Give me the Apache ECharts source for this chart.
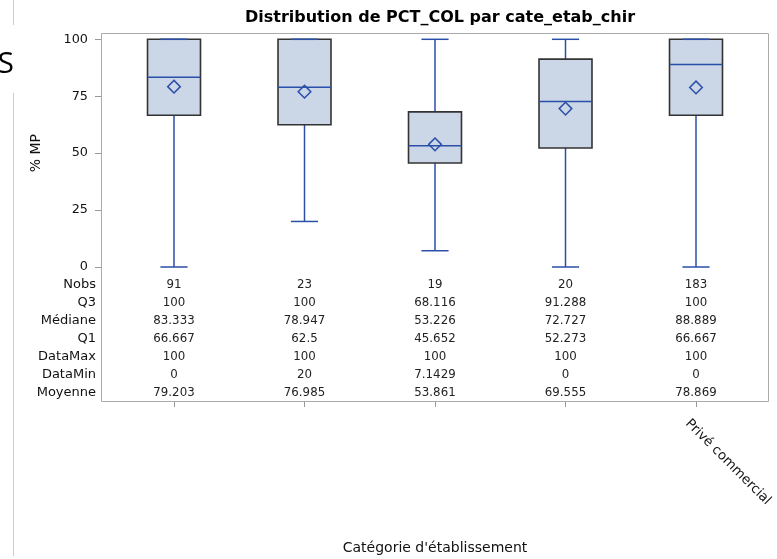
<!DOCTYPE html>
<html>
<head>
<meta charset="utf-8">
<script src="https://cdn.jsdelivr.net/npm/echarts@6/dist/echarts.min.js"></script>
<style>
  html, body { margin: 0; padding: 0; background: #fff; }
  #chart { width: 777px; height: 559px; }
</style>
</head>
<body>
<div id="chart"></div>
<script>
// Category labels (only the last one is printed under its tick)
const categories = ['', '', '', '', 'Privé commercial'];

// Per-category statistics of PCT_COL
const nobs    = [91, 23, 19, 20, 183];
const q3      = [100, 100, 68.116, 91.288, 100];
const median  = [83.333, 78.947, 53.226, 72.727, 88.889];
const q1      = [66.667, 62.5, 45.652, 52.273, 66.667];
const dataMax = [100, 100, 100, 100, 100];
const dataMin = [0, 20, 7.1429, 0, 0];
const mean    = [79.203, 76.985, 53.861, 69.555, 78.869];

// Statistic table row labels and y-axis ticks
const rowLabels = ['Nobs', 'Q3', 'Médiane', 'Q1', 'DataMax', 'DataMin', 'Moyenne'];
const yTicks = [0, 25, 50, 75, 100];

const FONT = 'DejaVu Sans';
const BLUE = '#2a4fa8';
const BOX_FILL = '#cbd6e6';
const BOX_EDGE = '#333333';

// Box data: [index, min, q1, median, q3, max, mean]
const boxData = categories.map((c, i) => [i, dataMin[i], q1[i], median[i], q3[i], dataMax[i], mean[i]]);
// Table data: one row of values per category
const tableRows = [nobs, q3, median, q1, dataMax, dataMin, mean];
const tableData = categories.map((c, i) => [i].concat(tableRows.map(r => r[i])));

// Table layout (pixels)
const TABLE_TOP = 284.5;
const TABLE_STEP = 18.1;

function renderBox(params, api) {
  const i = api.value(0);
  const x = api.coord([i, 0])[0];
  const band = api.size([1, 0])[0];
  const half = band * 0.203;
  const capHalf = band * 0.104;
  const y = v => api.coord([i, v])[1];
  const yMin = y(api.value(1)), yQ1 = y(api.value(2)), yMed = y(api.value(3));
  const yQ3 = y(api.value(4)), yMax = y(api.value(5)), yMean = y(api.value(6));
  const line = { stroke: BLUE, lineWidth: 1.5 };
  const d = 6.3;
  return {
    type: 'group',
    children: [
      { type: 'line', shape: { x1: x, y1: yQ3, x2: x, y2: yMax }, style: line },
      { type: 'line', shape: { x1: x, y1: yQ1, x2: x, y2: yMin }, style: line },
      { type: 'rect', shape: { x: x - half, y: yQ3, width: half * 2, height: yQ1 - yQ3 },
        style: { fill: BOX_FILL, stroke: BOX_EDGE, lineWidth: 1.6 } },
      { type: 'line', shape: { x1: x - half, y1: yMed, x2: x + half, y2: yMed }, style: line },
      { type: 'line', shape: { x1: x - capHalf, y1: yMax, x2: x + capHalf, y2: yMax }, style: line },
      { type: 'line', shape: { x1: x - capHalf, y1: yMin, x2: x + capHalf, y2: yMin }, style: line },
      { type: 'polygon', shape: { points: [[x, yMean - d], [x + d, yMean], [x, yMean + d], [x - d, yMean]] },
        style: { fill: 'none', stroke: BLUE, lineWidth: 1.5 } }
    ]
  };
}

function renderTable(params, api) {
  const i = api.value(0);
  const x = api.coord([i, 0])[0];
  const children = rowLabels.map((lbl, r) => ({
    type: 'text',
    x: x,
    y: TABLE_TOP + r * TABLE_STEP,
    style: {
      text: String(api.value(r + 1)),
      fill: '#222',
      font: '11.8px "' + FONT + '"',
      align: 'center',
      verticalAlign: 'middle'
    }
  }));
  return { type: 'group', children: children };
}

const chart = echarts.init(document.getElementById('chart'));

const graphics = [
  // plot frame enclosing boxes and table
  { type: 'rect', shape: { x: 101.5, y: 33.5, width: 667, height: 368 },
    style: { fill: 'none', stroke: '#ababab', lineWidth: 1 }, z: 0 },
  // page edge at the left
  { type: 'line', shape: { x1: 13.5, y1: 0, x2: 13.5, y2: 25 }, style: { stroke: '#cccccc', lineWidth: 1 } },
  { type: 'line', shape: { x1: 13.5, y1: 93, x2: 13.5, y2: 556 }, style: { stroke: '#cccccc', lineWidth: 1 } },
  { type: 'text', x: 14, y: 64, style: { text: 'S', font: '30px "Open Sans"', fill: '#000', align: 'right', verticalAlign: 'middle' } }
].concat(rowLabels.map((lbl, r) => ({
  type: 'text',
  x: 96,
  y: TABLE_TOP + r * TABLE_STEP,
  style: { text: lbl, font: '13px "' + FONT + '"', fill: '#111', align: 'right', verticalAlign: 'middle' }
})));

chart.setOption({
  animation: false,
  backgroundColor: '#fff',
  title: {
    text: 'Distribution de PCT_COL par cate_etab_chir',
    left: 435,
    top: 5,
    textAlign: 'center',
    textStyle: { fontFamily: FONT, fontWeight: 'bold', fontSize: 16, color: '#000' }
  },
  grid: [
    // boxes
    { left: 108.75, top: 39.3, width: 652.5, height: 227.7, outerBoundsMode: 'none' },
    // statistics table beneath the boxes
    { left: 108.75, top: 267, width: 652.5, height: 135, outerBoundsMode: 'none' }
  ],
  xAxis: [
    {
      type: 'category', gridIndex: 0, data: categories,
      axisLine: { show: false }, axisTick: { show: false }, axisLabel: { show: false },
      splitLine: { show: false }
    },
    {
      type: 'category', gridIndex: 1, data: categories,
      axisLine: { show: false },
      axisTick: { show: true, alignWithLabel: true, length: 5, lineStyle: { color: '#999' } },
      axisLabel: { show: false },
      name: "Catégorie d'établissement",
      nameLocation: 'middle',
      nameGap: 139,
      nameTextStyle: { fontFamily: FONT, fontSize: 14, color: '#111' },
      splitLine: { show: false }
    }
  ],
  yAxis: [
    {
      type: 'value', gridIndex: 0,
      min: yTicks[0],
      max: yTicks[yTicks.length - 1],
      interval: yTicks[1] - yTicks[0],
      offset: 7.75,
      axisLine: { show: false },
      axisTick: { show: true, length: 6, lineStyle: { color: '#999' } },
      axisLabel: { margin: 13, fontFamily: FONT, fontSize: 12.8, color: '#111' },
      splitLine: { show: false },
      name: '% MP',
      nameLocation: 'middle',
      nameGap: 58,
      nameTextStyle: { fontFamily: FONT, fontSize: 14, color: '#111' }
    },
    {
      type: 'value', gridIndex: 1, min: 0, max: 1, show: false
    }
  ],
  graphic: graphics,
  series: [
    { type: 'custom', renderItem: renderBox, data: boxData, clip: false, z: 2,
      xAxisIndex: 0, yAxisIndex: 0,
      encode: { x: 0, y: [1, 2, 3, 4, 5, 6] } },
    { type: 'custom', renderItem: renderTable, data: tableData, clip: false, z: 2,
      xAxisIndex: 1, yAxisIndex: 1,
      encode: { x: 0, y: 1 } }
  ]
});

// Slanted category labels, hung from the tick of each category
const labelGraphics = categories.map((name, i) => {
  const p = chart.convertToPixel({ xAxisIndex: 1, yAxisIndex: 1 }, [i, 0]);
  return {
    type: 'text',
    x: p[0] - 4,
    y: p[1] + 15,
    rotation: -Math.PI / 4,
    style: { text: name, font: '13.3px "' + FONT + '"', fill: '#111', align: 'left', verticalAlign: 'top' }
  };
});
chart.setOption({ graphic: graphics.concat(labelGraphics) });
</script>
</body>
</html>
